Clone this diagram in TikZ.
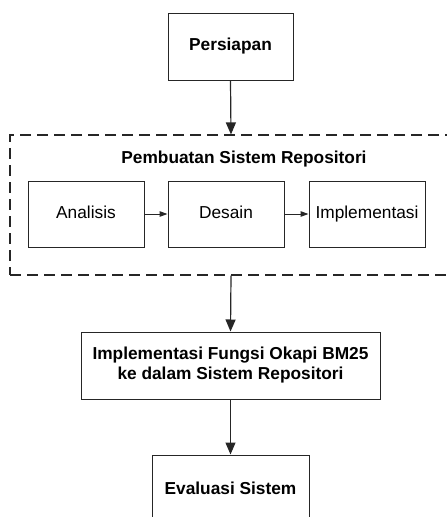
\documentclass[tikz,border=0pt]{standalone}
\usepackage{fontspec}
\setmainfont{Liberation Sans}
\usetikzlibrary{arrows.meta}
\begin{document}
\begin{tikzpicture}[x=1pt,y=-1pt,
  box/.style={draw=black!85,line width=1pt,rectangle,inner sep=0pt,align=center,
    font=\fontsize{17.3}{20}\selectfont},
  stepbox/.style={box,minimum width=116pt,minimum height=66pt,text height=12.5pt,text depth=3.5pt},
  bbox/.style={box,font=\fontsize{17.3}{20}\selectfont\bfseries},
  bigarrow/.style={draw=black!85,line width=1.2pt,-{Triangle[length=12pt,width=10pt]}},
  smallarrow/.style={draw=black!85,line width=1pt,-{Triangle[length=8pt,width=5.5pt]}},
  grpbox/.style={draw=black!85,line width=1.1pt,dash pattern=on 11pt off 6pt,rectangle,inner sep=0pt}]
\useasboundingbox (0,0) rectangle (447,517);
\clip (0,0) rectangle (447,517);
\node[bbox,minimum width=125pt,minimum height=67pt] (persiapan) at (230.5,46.5) {Persiapan};
\node[grpbox,minimum width=442pt,minimum height=140pt] (grp) at (231,205) {};
\node[font=\fontsize{17.3}{20}\selectfont\bfseries] (title) at (244,159) {Pembuatan Sistem Repositori};
\node[stepbox] (analisis) at (86,214) {Analisis};
\node[stepbox] (desain) at (226,214) {Desain};
\node[stepbox] (impl) at (367,214) {Implementasi};
\node[bbox,minimum width=299pt,minimum height=67pt] (okapi) at (230.5,365.5) {Implementasi Fungsi Okapi BM25\\ke dalam Sistem Repositori};
\node[bbox,minimum width=157pt,minimum height=67pt] (eval) at (230.5,488.5) {Evaluasi Sistem};
\draw[bigarrow] (persiapan.south) -- (grp.north);
\draw[smallarrow] (analisis.east) -- (desain.west);
\draw[smallarrow] (desain.east) -- (impl.west);
\draw[bigarrow] (grp.south) -- (okapi.north);
\draw[bigarrow] (okapi.south) -- (eval.north);
\end{tikzpicture}
\end{document}
